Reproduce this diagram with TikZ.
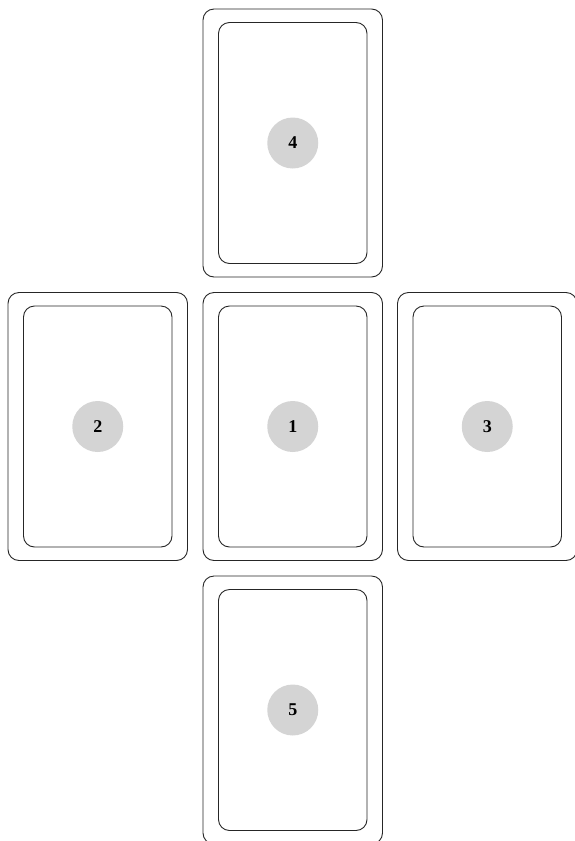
\documentclass[tikz,border=0pt]{standalone}
\usepackage{fontspec}
\setmainfont{Liberation Serif}
\begin{document}
\begin{tikzpicture}[x=1pt,y=-1pt,
  outercard/.style={draw=black!85, line width=0.9pt, rounded corners=11pt, minimum width=179.5pt, minimum height=268pt, inner sep=0pt},
  innercard/.style={draw=black!85, line width=0.9pt, rounded corners=11pt, minimum width=148.5pt, minimum height=241pt, inner sep=0pt},
  numdot/.style={circle, fill=black!17, minimum size=51pt, inner sep=0pt, font=\fontsize{18}{20}\selectfont\bfseries}]
\useasboundingbox (0,0) rectangle (574,841);
% card centres
\foreach \n/\cx/\cy in {4/292.75/143, 2/97.75/426.5, 1/292.75/426.5, 3/487.25/426.5, 5/292.75/710}{
  \node[outercard] (outer\n) at (\cx,\cy) {};
  \node[innercard] (inner\n) at (\cx,\cy) {};
  \node[numdot] (num\n) at (\cx,\cy) {\n};
}
\end{tikzpicture}
\end{document}
